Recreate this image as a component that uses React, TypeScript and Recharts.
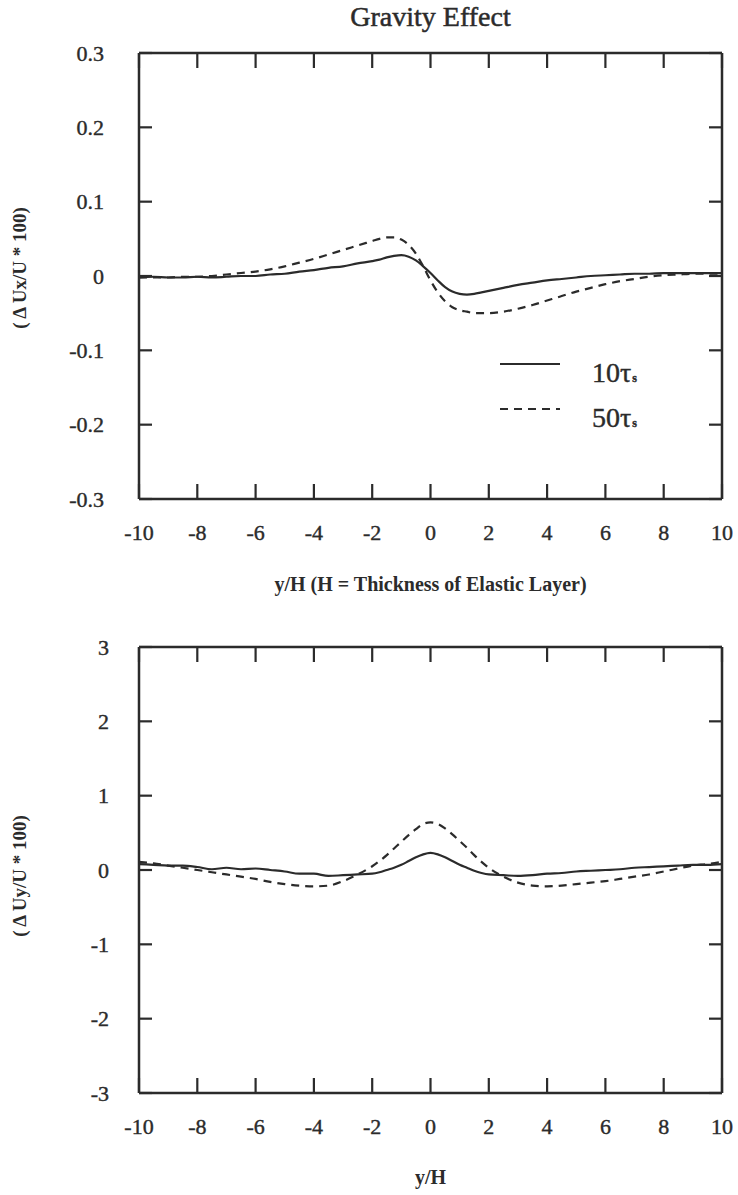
import React from "react";
import {
  Label,
  Legend,
  Line,
  LineChart,
  XAxis,
  YAxis,
} from "recharts";

// y/H positions shared by both panels (finer spacing through the centre).
const Y_H = [
  -10, -9.5, -9, -8.5, -8, -7.5, -7, -6.5, -6, -5.5, -5, -4.5, -4, -3.5, -3,
  -2.5, -2, -1.75, -1.5, -1.25, -1, -0.75, -0.5, -0.25, 0, 0.25, 0.5, 0.75, 1,
  1.25, 1.5, 1.75, 2, 2.5, 3, 3.5, 4, 4.5, 5, 5.5, 6, 6.5, 7, 7.5, 8, 8.5, 9,
  9.5, 10,
];

// ΔUx/U * 100
const UX_10 = [
  -0.002, -0.001, -0.002, -0.002, -0.001, -0.002, -0.001, 0.0, 0.0, 0.002,
  0.003, 0.006, 0.008, 0.011, 0.013, 0.017, 0.02, 0.022, 0.025, 0.027, 0.028,
  0.026, 0.021, 0.013, 0.004, -0.006, -0.015, -0.021, -0.024, -0.025, -0.024,
  -0.022, -0.02, -0.016, -0.012, -0.009, -0.006, -0.004, -0.002, 0.0, 0.001,
  0.002, 0.003, 0.003, 0.004, 0.004, 0.004, 0.004, 0.004,
];
const UX_50 = [
  -0.002, -0.002, -0.002, -0.001, -0.001, 0.0, 0.002, 0.004, 0.006, 0.009,
  0.013, 0.018, 0.023, 0.029, 0.035, 0.041, 0.047, 0.05, 0.052, 0.052, 0.049,
  0.042, 0.03, 0.013, -0.006, -0.022, -0.034, -0.042, -0.046, -0.048, -0.05,
  -0.05, -0.05, -0.048, -0.044, -0.039, -0.033, -0.027, -0.021, -0.016,
  -0.011, -0.007, -0.004, -0.001, 0.001, 0.002, 0.003, 0.003, 0.003,
];

// ΔUy/U * 100
const UY_10 = [
  0.08, 0.07, 0.06, 0.06, 0.04, 0.01, 0.03, 0.01, 0.02, 0.0, -0.02, -0.05,
  -0.05, -0.08, -0.07, -0.06, -0.05, -0.03, 0.0, 0.03, 0.07, 0.12, 0.17, 0.21,
  0.23, 0.21, 0.17, 0.12, 0.07, 0.03, -0.01, -0.04, -0.06, -0.07, -0.08, -0.07,
  -0.05, -0.04, -0.02, -0.01, 0.0, 0.01, 0.03, 0.04, 0.05, 0.06, 0.07, 0.07,
  0.08,
];
const UY_50 = [
  0.11, 0.09, 0.06, 0.03, 0.0, -0.03, -0.06, -0.09, -0.12, -0.16, -0.19, -0.21,
  -0.22, -0.21, -0.15, -0.06, 0.05, 0.12, 0.2, 0.29, 0.38, 0.47, 0.55, 0.62,
  0.64, 0.62, 0.56, 0.48, 0.39, 0.3, 0.2, 0.11, 0.03, -0.09, -0.17, -0.21,
  -0.22, -0.21, -0.19, -0.17, -0.15, -0.12, -0.09, -0.06, -0.02, 0.02, 0.06,
  0.08, 0.11,
];

const X_TICKS = [-10, -8, -6, -4, -2, 0, 2, 4, 6, 8, 10];
const UX_TICKS = [-0.3, -0.2, -0.1, 0, 0.1, 0.2, 0.3];
const UY_TICKS = [-3, -2, -1, 0, 1, 2, 3];

const SERIES = [
  { key: "t10", name: "10τ", dash: undefined as string | undefined },
  { key: "t50", name: "50τ", dash: "8 6" },
];

const INK = "#2b2b2b";
const FONT = '"Liberation Serif", "Times New Roman", serif';
const W = 738;

const uxRows = Y_H.map((y, i) => ({ y, t10: UX_10[i], t50: UX_50[i] }));
const uyRows = Y_H.map((y, i) => ({ y, t10: UY_10[i], t50: UY_50[i] }));

const fmt = (v: number) => (v === 0 ? "0" : String(v));

// --- inward tick marks, one renderer per side ---------------------------

const TICK_LEN_X = 15;
const TICK_LEN_Y = 13;

const labelStyle = {
  fontFamily: FONT,
  fontSize: 22,
  fill: INK,
  stroke: INK,
  strokeWidth: 0.4,
};

function bottomTick(margin: number) {
  return (p: any) => (
    <g>
      <line
        x1={p.x}
        x2={p.x}
        y1={p.y - margin}
        y2={p.y - margin - TICK_LEN_X}
        stroke={INK}
        strokeWidth={2.2}
      />
      <text x={p.x} y={p.y} textAnchor="middle" style={labelStyle}>
        {fmt(p.payload.value)}
      </text>
    </g>
  );
}

function topTick(p: any) {
  return (
    <line
      x1={p.x}
      x2={p.x}
      y1={p.y}
      y2={p.y + TICK_LEN_X}
      stroke={INK}
      strokeWidth={2.2}
    />
  );
}

function leftTick(margin: number) {
  return (p: any) => (
    <g>
      <line
        x1={p.x + margin}
        x2={p.x + margin + TICK_LEN_Y}
        y1={p.y}
        y2={p.y}
        stroke={INK}
        strokeWidth={2.2}
      />
      <text x={p.x} y={p.y} dy="0.35em" textAnchor="end" style={labelStyle}>
        {fmt(p.payload.value)}
      </text>
    </g>
  );
}

function rightTick(p: any) {
  return (
    <line
      x1={p.x}
      x2={p.x - TICK_LEN_Y}
      y1={p.y}
      y2={p.y}
      stroke={INK}
      strokeWidth={2.2}
    />
  );
}

// --- axis captions ---------------------------------------------------------

function XCaption({ viewBox, text, dy }: any) {
  const cx = viewBox.x + viewBox.width / 2;
  return (
    <text
      x={cx}
      y={viewBox.y + dy}
      textAnchor="middle"
      fontFamily={FONT}
      fontSize={20}
      fontWeight="bold"
      fill={INK}
    >
      {text}
    </text>
  );
}

function YCaption({ viewBox, text, dy }: any) {
  const x = 26;
  const y = viewBox.y + viewBox.height / 2 + dy;
  return (
    <text
      x={x}
      y={y}
      transform={`rotate(-90 ${x} ${y})`}
      textAnchor="middle"
      fontFamily={FONT}
      fontSize={19}
      fontWeight="bold"
      fill={INK}
    >
      {text}
    </text>
  );
}

function Title({ viewBox }: any) {
  return (
    <text
      x={viewBox.x + viewBox.width / 2}
      y={26}
      textAnchor="middle"
      fontFamily={FONT}
      fontSize={28}
      fill={INK}
      stroke={INK}
      strokeWidth={0.5}
    >
      Gravity Effect
    </text>
  );
}

function LegendBox() {
  return (
    <svg width={170} height={100} style={{ display: "block" }}>
      {SERIES.map((s, i) => (
        <g key={s.key}>
          <line
            x1={5}
            x2={65}
            y1={24 + i * 45}
            y2={24 + i * 45}
            stroke={INK}
            strokeWidth={2}
            strokeDasharray={s.dash}
          />
          <text
            x={97}
            y={42 + i * 45}
            fontFamily={FONT}
            fontSize={28}
            fill={INK}
            stroke={INK}
            strokeWidth={0.4}
          >
            {s.name}
            <tspan fontSize={12} fontWeight="bold" dx={1}>
              s
            </tspan>
          </text>
        </g>
      ))}
    </svg>
  );
}

function Panel({
  data,
  ticks,
  height,
  top,
  plotTop,
  plotBottom,
  tickGap,
  caption,
  xCaption,
  xCaptionDy,
  yCaptionDy,
  title,
  legend,
}: {
  data: { y: number; t10: number; t50: number }[];
  ticks: number[];
  height: number;
  top: number;
  plotTop: number;
  plotBottom: number;
  tickGap: number;
  caption: string;
  xCaption: string;
  xCaptionDy: number;
  yCaptionDy: number;
  title?: boolean;
  legend?: boolean;
}) {
  const marginBottom = 5;
  const xAxisHeight = height - marginBottom - plotBottom;
  const domain: [number, number] = [ticks[0], ticks[ticks.length - 1]];
  return (
    <div style={{ position: "absolute", left: 0, top }}>
      <LineChart
        width={W}
        height={height}
        data={data}
        margin={{ top: plotTop - 1, right: 15, left: 10, bottom: marginBottom }}
      >
        <XAxis
          dataKey="y"
          type="number"
          domain={[-10, 10]}
          ticks={X_TICKS}
          interval={0}
          height={xAxisHeight}
          tickSize={0}
          tickMargin={41}
          tick={bottomTick(41)}
          axisLine={{ stroke: INK, strokeWidth: 2.5 }}
          tickLine={false}
        >
          <Label
            content={(p: any) => (
              <XCaption viewBox={p.viewBox} text={xCaption} dy={xCaptionDy} />
            )}
          />
        </XAxis>
        <XAxis
          xAxisId="t"
          dataKey="y"
          orientation="top"
          type="number"
          domain={[-10, 10]}
          ticks={X_TICKS}
          interval={0}
          height={1}
          tickSize={0}
          tickMargin={0}
          tick={topTick}
          axisLine={{ stroke: INK, strokeWidth: 2.5 }}
          tickLine={false}
        >
          {title && <Label content={(p: any) => <Title viewBox={p.viewBox} />} />}
        </XAxis>
        <YAxis
          type="number"
          domain={domain}
          ticks={ticks}
          interval={0}
          width={129}
          tickSize={0}
          tickMargin={tickGap}
          tick={leftTick(tickGap)}
          axisLine={{ stroke: INK, strokeWidth: 2.5 }}
          tickLine={false}
        >
          <Label
            content={(p: any) => (
              <YCaption viewBox={p.viewBox} text={caption} dy={yCaptionDy} />
            )}
          />
        </YAxis>
        <YAxis
          yAxisId="r"
          orientation="right"
          type="number"
          domain={domain}
          ticks={ticks}
          interval={0}
          width={1}
          tickSize={0}
          tickMargin={0}
          tick={rightTick}
          axisLine={{ stroke: INK, strokeWidth: 2.5 }}
          tickLine={false}
        />
        {legend && (
          <Legend
            layout="horizontal"
            verticalAlign="middle"
            content={() => <LegendBox />}
            wrapperStyle={{ left: 495, top: 340, width: 170 }}
          />
        )}
        {SERIES.map((s) => (
          <Line
            key={s.key}
            dataKey={s.key}
            name={s.name}
            type="monotone"
            stroke={INK}
            strokeWidth={2.2}
            strokeDasharray={s.dash}
            dot={false}
            isAnimationActive={false}
          />
        ))}
        {/* invisible carrier so the mirrored top/right axes get their scales */}
        <Line
          xAxisId="t"
          yAxisId="r"
          dataKey="t10"
          stroke="none"
          dot={false}
          legendType="none"
          isAnimationActive={false}
        />
      </LineChart>
    </div>
  );
}

export default function App() {
  return (
    <div
      style={{
        position: "absolute",
        left: 0,
        top: 0,
        width: W,
        height: 1195,
        background: "#fff",
      }}
    >
      <Panel
        data={uxRows}
        ticks={UX_TICKS}
        height={605}
        top={0}
        plotTop={53}
        plotBottom={499}
        tickGap={35}
        caption="( Δ Ux/U * 100)"
        xCaption="y/H (H = Thickness of Elastic Layer)"
        xCaptionDy={92}
        yCaptionDy={-8}
        title
        legend
      />
      <Panel
        data={uyRows}
        ticks={UY_TICKS}
        height={595}
        top={600}
        plotTop={47}
        plotBottom={493}
        tickGap={30}
        caption="( Δ Uy/U * 100)"
        xCaption="y/H"
        xCaptionDy={91}
        yCaptionDy={6}
      />
    </div>
  );
}
